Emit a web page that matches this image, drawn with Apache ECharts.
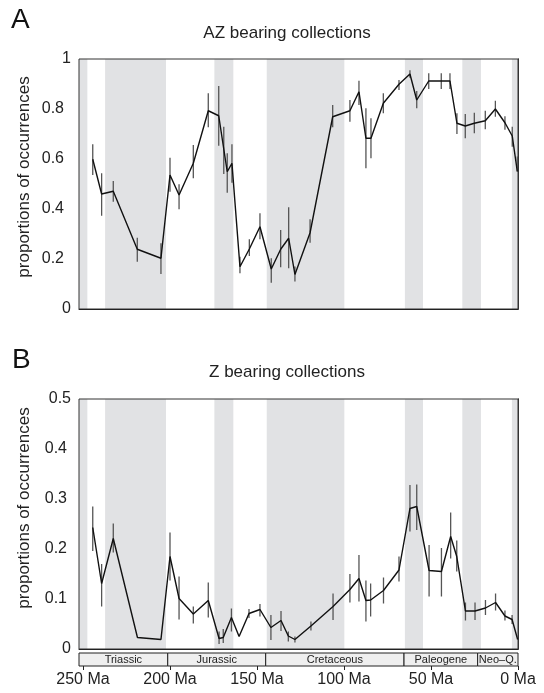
<!DOCTYPE html>
<html><head><meta charset="utf-8">
<script src="https://cdn.jsdelivr.net/npm/echarts@6/dist/echarts.min.js"></script>
<style>html,body{margin:0;padding:0;background:#fff}#c{width:544px;height:693px}</style>
</head><body><div id="c"></div>
<script>
// ---- Panel A: AZ bearing collections ----
const agesA = [244.4,239.3,232.6,218.8,205.2,200.0,194.8,186.6,178.0,172.0,169.1,167.1,164.4,159.8,154.4,148.3,141.8,136.4,131.8,128.2,119.5,106.5,96.6,91.4,87.4,84.5,77.4,68.4,62.1,58.2,51.3,44.1,39.1,35.1,30.3,25.1,18.8,13.0,7.5,3.3,0.4];
const propA = [0.599,0.46,0.471,0.239,0.203,0.536,0.456,0.583,0.793,0.773,0.64,0.549,0.583,0.169,0.24,0.329,0.16,0.239,0.283,0.138,0.305,0.769,0.793,0.869,0.683,0.683,0.823,0.899,0.94,0.836,0.912,0.912,0.912,0.743,0.732,0.743,0.753,0.8,0.745,0.692,0.55];
const lowA  = [0.536,0.373,0.429,0.189,0.14,0.469,0.399,0.523,0.727,0.653,0.54,0.465,0.505,0.143,0.212,0.279,0.105,0.167,0.163,0.11,0.265,0.727,0.749,0.816,0.563,0.603,0.783,0.876,0.925,0.803,0.88,0.88,0.88,0.7,0.683,0.703,0.719,0.769,0.717,0.649,0.55];
const highA = [0.659,0.543,0.512,0.285,0.263,0.605,0.499,0.656,0.863,0.892,0.729,0.623,0.659,0.209,0.279,0.383,0.203,0.316,0.407,0.17,0.359,0.816,0.836,0.913,0.803,0.763,0.863,0.916,0.955,0.872,0.943,0.943,0.943,0.783,0.78,0.785,0.793,0.833,0.771,0.729,0.61];

// ---- Panel B: Z bearing collections ----
const agesB = [244.4,239.3,232.6,218.7,205.2,200.0,194.8,186.6,178.0,171.8,169.4,164.7,160.3,154.6,148.3,142.0,136.2,132.0,128.2,119.0,106.3,96.6,91.4,87.4,84.7,77.3,68.4,62.1,58.2,51.1,44.0,38.7,35.2,30.2,24.7,18.7,12.9,7.5,3.4,0.2];
const propB = [0.243,0.131,0.221,0.023,0.019,0.185,0.101,0.07,0.097,0.021,0.023,0.063,0.025,0.071,0.079,0.043,0.057,0.026,0.019,0.046,0.085,0.119,0.141,0.097,0.098,0.117,0.158,0.281,0.285,0.157,0.155,0.225,0.185,0.076,0.076,0.082,0.093,0.066,0.059,0.019];
const lowB  = [0.196,0.085,0.193,0.023,0.019,0.137,0.059,0.051,0.063,0.01,0.012,0.035,0.025,0.062,0.065,0.018,0.036,0.015,0.013,0.037,0.058,0.093,0.095,0.055,0.065,0.091,0.135,0.235,0.238,0.105,0.105,0.181,0.155,0.057,0.058,0.068,0.077,0.057,0.05,0.019];
const highB = [0.285,0.17,0.251,0.023,0.019,0.233,0.145,0.085,0.133,0.035,0.04,0.081,0.025,0.08,0.09,0.068,0.076,0.035,0.025,0.055,0.111,0.15,0.188,0.137,0.131,0.143,0.185,0.328,0.329,0.208,0.202,0.273,0.217,0.093,0.093,0.098,0.111,0.077,0.068,0.019];

// ---- shaded intervals (Ma) ----
const bandStart = [252.3,237.3,174.5,144.4,65.0,32.0,3.5];
const bandEnd   = [247.5,202.3,163.6,99.8,54.6,21.3,0];

// ---- period bar ----
const periodNames  = ['Triassic','Jurassic','Cretaceous','Paleogene','Neo\u2013Q.'];
const periodStarts = [252.3,201.3,145.0,65.5,23.2];
const periodEnds   = [201.3,145.0,65.5,23.2,0];

const ageTicks = [0,50,100,150,200,250];
const ageMax = 252.3;

const FONT = '"Liberation Sans", Arial, Helvetica, sans-serif';
const chart = echarts.init(document.getElementById('c'), null, {renderer:'canvas'});

function bandData(){ return bandStart.map((s,i)=>[s, bandEnd[i]]); }
function bandRender(ymax){
  return function(params, api){
    const p1 = api.coord([api.value(0), ymax]);
    const p2 = api.coord([api.value(1), 0]);
    return {type:'rect', shape:{x:p1[0], y:p1[1], width:p2[0]-p1[0], height:p2[1]-p1[1]},
            style:{fill:'#e1e2e4'}};
  };
}
function errRender(params, api){
  const a = api.coord([api.value(0), api.value(1)]);
  const b = api.coord([api.value(0), api.value(2)]);
  return {type:'line', shape:{x1:a[0], y1:a[1], x2:b[0], y2:b[1]},
          style:{stroke:'#555', lineWidth:1.3}};
}
function xAxisPlot(gi){
  return {type:'value', gridIndex:gi, min:0, max:ageMax, inverse:true,
    axisLine:{show:true, onZero:false, lineStyle:{color:'#222', width:1}},
    axisTick:{show:false}, axisLabel:{show:false}, splitLine:{show:false}};
}
function yAxisPlot(gi, max, interval, pad){
  return {type:'value', gridIndex:gi, min:0, max:max, interval:interval,
    axisLine:{show:true, lineStyle:{color:'#222', width:1}},
    axisTick:{show:false},
    axisLabel:{color:'#222', fontSize:16, fontFamily:FONT, margin:8,
      formatter: v => (v===0 || v===max) ? '{i|'+v+'}' : '{d|'+v+'}',
      rich:{i:{fontSize:16, fontFamily:FONT, color:'#222'},
            d:{fontSize:16, fontFamily:FONT, color:'#222', padding:[0,pad,0,0]}}},
    splitLine:{show:false}};
}
function yAxisRight(gi, max){
  return {type:'value', gridIndex:gi, min:0, max:max, position:'right',
    axisLine:{show:true, lineStyle:{color:'#333', width:1}},
    axisTick:{show:false}, axisLabel:{show:false}, splitLine:{show:false}};
}

const option = {
  animation:false,
  backgroundColor:'#fff',
  grid:[
    {left:79, right:26, top:59, height:250, show:true, borderColor:'#333', borderWidth:1, backgroundColor:'transparent'},
    {left:79, right:26, top:399, height:250, show:true, borderColor:'#333', borderWidth:1, backgroundColor:'transparent'},
    {left:79, right:26, top:653, height:13}
  ],
  xAxis:[
    xAxisPlot(0), xAxisPlot(1),
    {type:'value', gridIndex:2, min:0, max:ageMax, inverse:true,
      axisLine:{show:false},
      axisTick:{show:true, length:4, customValues:ageTicks, lineStyle:{color:'#222'}},
      axisLabel:{show:true, customValues:ageTicks, formatter: v => v + ' Ma', color:'#222', fontSize:16, fontFamily:FONT, margin:6},
      splitLine:{show:false}}
  ],
  yAxis:[
    yAxisPlot(0, 1, 0.2, 7),
    yAxisPlot(1, 0.5, 0.1, 4),
    {type:'value', gridIndex:2, min:0, max:1, show:false},
    yAxisRight(0, 1),
    yAxisRight(1, 0.5)
  ],
  graphic:[
    {type:'text', left:11, top:6, style:{text:'A', fontSize:28, fontFamily:FONT, fill:'#111'}},
    {type:'text', left:12, top:346, style:{text:'B', fontSize:28, fontFamily:FONT, fill:'#111'}},
    {type:'text', x:287, y:33, style:{text:'AZ bearing collections', fontSize:17, fontFamily:FONT, fill:'#222', align:'center', verticalAlign:'middle'}},
    {type:'text', x:287, y:372, style:{text:'Z bearing collections', fontSize:17, fontFamily:FONT, fill:'#222', align:'center', verticalAlign:'middle'}},
    {type:'text', x:24.5, y:177, rotation:Math.PI/2, style:{text:'proportions of occurrences', fontSize:17, fontFamily:FONT, fill:'#222', align:'center', verticalAlign:'middle'}},
    {type:'text', x:24.5, y:508, rotation:Math.PI/2, style:{text:'proportions of occurrences', fontSize:17, fontFamily:FONT, fill:'#222', align:'center', verticalAlign:'middle'}}
  ],
  series:[
    {type:'custom', xAxisIndex:0, yAxisIndex:0, data:bandData(), renderItem:bandRender(1), z:-1, silent:true, clip:true},
    {type:'custom', xAxisIndex:1, yAxisIndex:1, data:bandData(), renderItem:bandRender(0.5), z:-1, silent:true, clip:true},
    {type:'custom', xAxisIndex:0, yAxisIndex:0, data:agesA.map((a,i)=>[a, lowA[i], highA[i]]), renderItem:errRender, z:2, silent:true},
    {type:'custom', xAxisIndex:1, yAxisIndex:1, data:agesB.map((a,i)=>[a, lowB[i], highB[i]]), renderItem:errRender, z:2, silent:true},
    {type:'line', xAxisIndex:0, yAxisIndex:0, data:agesA.map((a,i)=>[a, propA[i]]), showSymbol:false, symbol:'none',
      lineStyle:{color:'#111', width:1.4}, z:3},
    {type:'line', xAxisIndex:1, yAxisIndex:1, data:agesB.map((a,i)=>[a, propB[i]]), showSymbol:false, symbol:'none',
      lineStyle:{color:'#111', width:1.4}, z:3},
    {type:'custom', xAxisIndex:2, yAxisIndex:2,
      data:periodNames.map((n,i)=>[periodStarts[i], periodEnds[i], n]),
      renderItem:function(params, api){
        const p1 = api.coord([api.value(0), 1]);
        const p2 = api.coord([api.value(1), 0]);
        const name = periodNames[params.dataIndex];
        return {type:'group', children:[
          {type:'rect', shape:{x:p1[0], y:p1[1], width:p2[0]-p1[0], height:p2[1]-p1[1]},
            style:{fill:'#efefef', stroke:'#222', lineWidth:1}},
          {type:'text', x:(p1[0]+p2[0])/2, y:(p1[1]+p2[1])/2+0.5,
            style:{text:name, fontSize:11, fontFamily:FONT, fill:'#222', align:'center', verticalAlign:'middle'}}
        ]};
      }, silent:true}
  ]
};
chart.setOption(option);
</script>
</body></html>
